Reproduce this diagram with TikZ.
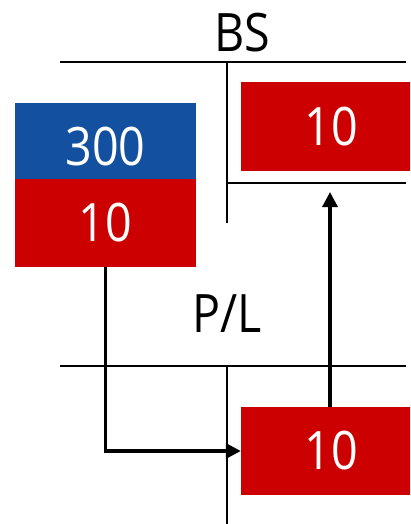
\documentclass[tikz,border=0pt]{standalone}
\usepackage{fontspec}
\setmainfont{Open Sans}[FakeStretch=0.88]
\usetikzlibrary{arrows.meta}
\definecolor{bsred}{RGB}{204,0,0}
\definecolor{bsblue}{RGB}{19,81,160}
\begin{document}
\begin{tikzpicture}[x=1pt,y=-1pt,
  bigtext/.style={font=\fontsize{53}{60}\selectfont},
  box/.style={bigtext, inner sep=0pt, text=white, text height=37.8pt, text depth=0pt,
    minimum width=181pt, minimum height=88pt, anchor=center},
  rule/.style={line width=2.6pt},
  arr/.style={line width=3.2pt, -{Triangle[length=15pt,width=15pt]}}]
\useasboundingbox (0,0) rectangle (410,524);
\clip (0,0) rectangle (410,524);
% titles
\node[bigtext, anchor=base, inner sep=0pt] (bs) at (242,52) {BS};
\node[bigtext, anchor=base, inner sep=0pt] (pl) at (227,332) {P/L};
% T-account lines
\coordinate (bsL) at (60,62);
\coordinate (bsR) at (406,62);
\coordinate (bsT) at (227,62);
\coordinate (bsB) at (227,223);
\coordinate (bsM) at (227,183);
\coordinate (bsMR) at (406,183);
\coordinate (plL) at (60,366);
\coordinate (plR) at (406,366);
\coordinate (plT) at (227,366);
\coordinate (plB) at (227,524);
\draw[rule] (bsL) -- (bsR);
\draw[rule] (bsT) -- (bsB);
\draw[rule] (bsM) -- (bsMR);
\draw[rule] (plL) -- (plR);
\draw[rule] (plT) -- (plB);
% boxes
\node[box, fill=bsblue] (blue) at (105.5,147) {300};
\node[box, fill=bsred] (lred) at (105.5,223) {10};
\node[box, fill=bsred, minimum width=180pt] (trbox) at (331,126.5) {10};
\node[box, fill=bsred, minimum width=180pt] (pbox) at (331,451) {10};
% arrows
\coordinate (uptip) at (330,192);
\draw[arr] (lred.south) |- (pbox.west);
\draw[arr] (pbox.north -| uptip) -- (uptip);
\end{tikzpicture}
\end{document}
